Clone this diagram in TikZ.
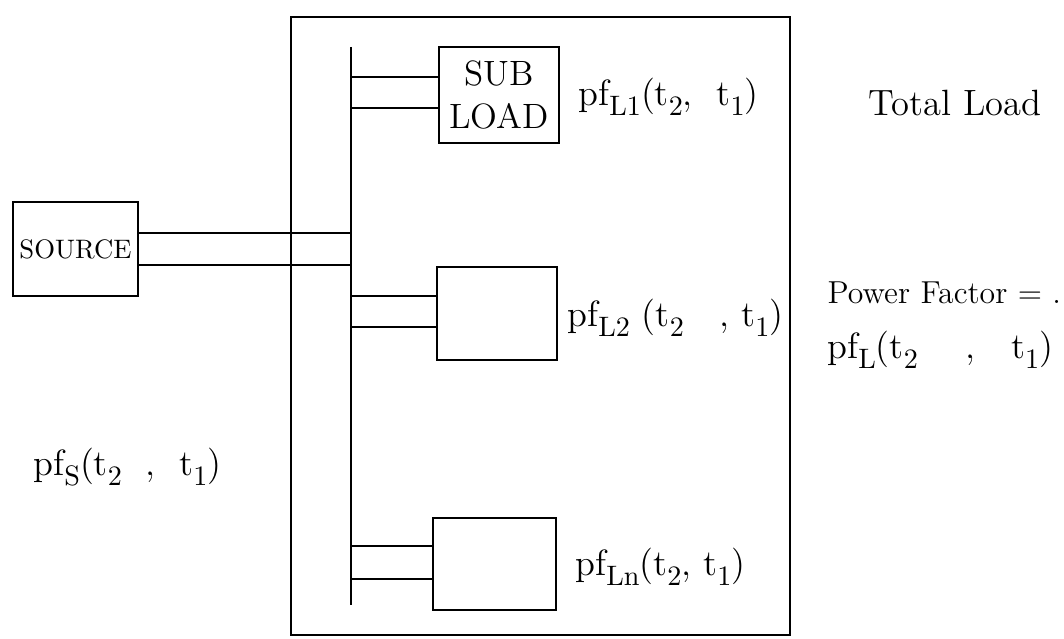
\documentclass[tikz,border=0pt]{standalone}
\newcommand{\lowsub}[1]{\raisebox{-0.6ex}{\fontsize{10}{10}\selectfont #1}}
\begin{document}
\begin{tikzpicture}[x=0.0125cm, y=-0.0125cm,
    loadbox/.style={draw, thick, inner sep=0pt, minimum width=1.5cm, align=center, font=\fontsize{12.5}{15}\selectfont},
    wire/.style={thick},
    pflabel/.style={anchor=west, inner sep=0pt, font=\fontsize{13}{15}\selectfont}
]
    \useasboundingbox (0,0) rectangle (1064,639);
    \node[draw, thick, inner sep=0pt, minimum width=6.2375cm, minimum height=7.725cm] (total) at (540.5, 326) {};
    \node[loadbox, minimum width=1.5625cm, minimum height=1.175cm, font=\fontsize{9.5}{11}\selectfont] (source) at (75.5, 249) {SOURCE};
    \node[loadbox, minimum height=1.2cm] (subload) at (499, 95) {SUB\\LOAD};
    \node[loadbox, minimum height=1.1625cm] (load2) at (497, 313.5) {};
    \node[loadbox, minimum width=1.5375cm, minimum height=1.15cm] (loadn) at (494.5, 564) {};

    \coordinate (bus) at (351, 47);
    \coordinate (busend) at (351, 605);
    \draw[wire] (bus) -- (busend);
    \draw[wire] (source.east |- 0,233) -- (bus |- 0,233);
    \draw[wire] (source.east |- 0,265) -- (bus |- 0,265);
    \foreach \n/\ya/\yb in {subload/77/108, load2/296/327, loadn/546/579} {
        \draw[wire] (bus |- 0,\ya) -- (\n.west |- 0,\ya);
        \draw[wire] (bus |- 0,\yb) -- (\n.west |- 0,\yb);
    }

    \node[pflabel] (pfl1) at (578, 97) {pf\lowsub{L1}(t\lowsub{2},\ \ t\lowsub{1})};
    \node[pflabel] (pfl2) at (567, 318) {pf\lowsub{L2}\ (t\lowsub{2}\ \ \ ,\ t\lowsub{1})};
    \node[pflabel] (pfln) at (575, 567) {pf\lowsub{Ln}(t\lowsub{2}, t\lowsub{1})};
    \node[pflabel] (pfs) at (33, 467) {pf\lowsub{S}(t\lowsub{2}\ \ ,\ \ t\lowsub{1})};
    \node[pflabel] (totallabel) at (868, 103) {Total Load};
    \node[pflabel, font=\fontsize{11.3}{13}\selectfont] (pftext) at (827, 293) {Power Factor = .};
    \node[pflabel] (pfl) at (827, 350) {pf\lowsub{L}(t\lowsub{2}\ \ \ \ ,\ \ \ t\lowsub{1})};
\end{tikzpicture}
\end{document}
